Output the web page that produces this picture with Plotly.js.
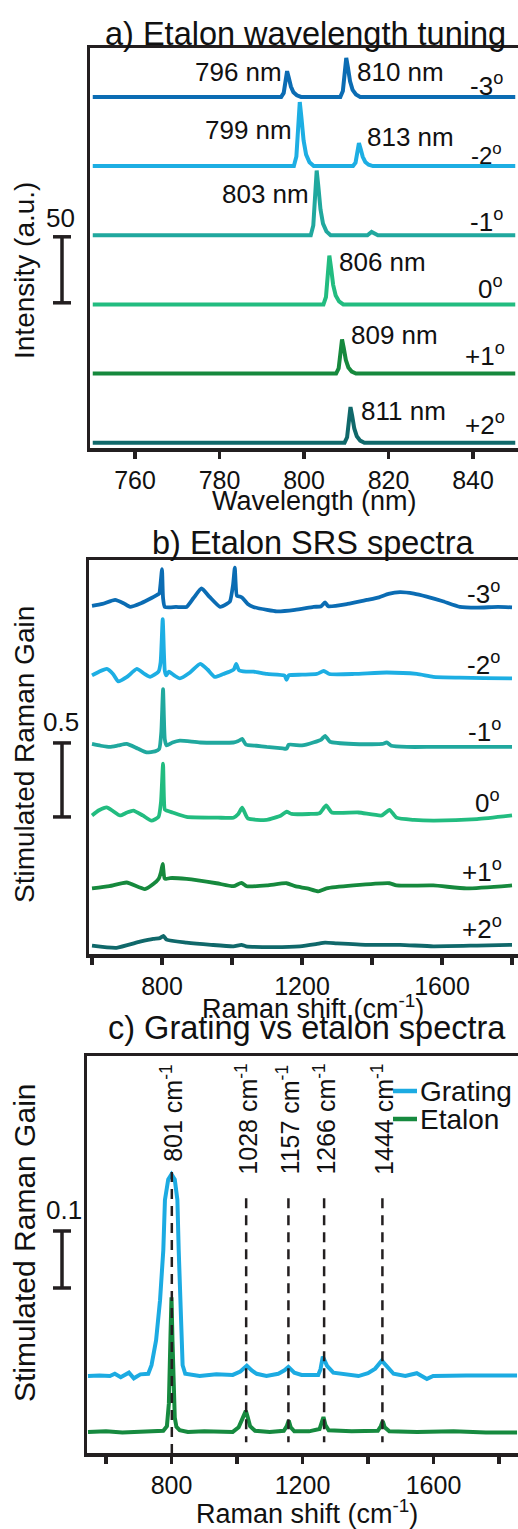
<!DOCTYPE html>
<html>
<head>
<meta charset="utf-8">
<script src="https://cdn.plot.ly/plotly-3.0.1.min.js"></script>
<style>
  html, body { margin: 0; padding: 0; background: #fff; overflow: hidden; }
  #fig { width: 518px; height: 1529px; }
</style>
</head>
<body>
<div id="fig"></div>
<script>
// ---------- a) Etalon wavelength tuning (wavelength in nm, intensity in a.u.) ----------
const tuneAngles = ['-3', '-2', '-1', '0', '+1', '+2'];
const tuneX_m3 = [750, 794.6, 795.2, 795.6, 796, 796.4, 796.9, 797.5, 798.3, 799.3, 808.6, 809.2, 809.6, 810, 810.4, 810.9, 811.5, 812.3, 813.3, 850];
const tuneY_m3 = [0, 0, 3, 10.7, 19.5, 14.6, 7.8, 3.5, 1.2, 0, 0, 4.4, 16.2, 29.5, 22.1, 11.8, 5.3, 1.8, 0, 0];
const tuneX_m2 = [750, 797.6, 798.2, 798.6, 799, 799.4, 799.9, 800.5, 801.3, 802.3, 811.6, 812.2, 812.6, 813, 813.4, 813.9, 814.5, 815.3, 816.3, 850];
const tuneY_m2 = [0, 0, 7.3, 26.7, 48.5, 36.4, 19.4, 8.7, 2.9, 0, 0, 2.6, 9.6, 17.4, 13.1, 7, 3.1, 1, 0, 0];
const tuneX_m1 = [750, 801.6, 802.2, 802.6, 803, 803.4, 803.9, 804.5, 805.3, 806.3, 815, 816, 817.5, 850];
const tuneY_m1 = [0, 0, 7.4, 27, 49, 36.8, 19.6, 8.8, 2.9, 0, 0, 2.5, 0, 0];
const tuneX_0 = [750, 804.6, 805.2, 805.6, 806, 806.4, 806.9, 807.5, 808.3, 809.3, 850];
const tuneY_0 = [0, 0, 5.6, 20.4, 37, 27.8, 14.8, 6.7, 2.2, 0, 0];
const tuneX_p1 = [750, 807.6, 808.2, 808.6, 809, 809.4, 809.9, 810.5, 811.3, 812.3, 850];
const tuneY_p1 = [0, 0, 3.9, 14.2, 25.8, 19.4, 10.3, 4.6, 1.5, 0, 0];
const tuneX_p2 = [750, 809.6, 810.2, 810.6, 811, 811.4, 811.9, 812.5, 813.3, 814.3, 850];
const tuneY_p2 = [0, 0, 4.1, 14.9, 27, 20.3, 10.8, 4.9, 1.6, 0, 0];
// stacking offsets of the waterfall (a.u.), top trace first
const tuneOffsets = [266, 213.6, 161.2, 108.8, 56.4, 4];
const tunePeakLabels = ['796 nm', '810 nm', '799 nm', '813 nm', '803 nm', '806 nm', '809 nm', '811 nm'];
const tuneScale = 50;      // intensity scale bar (a.u.)
const tuneScaleBase = 110; // where the scale bar starts on the stacked axis
const tuneTicks = [760, 780, 800, 820, 840];

// ---------- b) Etalon SRS spectra (Raman shift in cm-1) ----------
const srsX_m3 = [600, 630, 666, 690, 709, 740, 770, 785, 792, 796, 800, 803, 808, 840, 870, 890, 913, 935, 966, 985, 994, 1003, 1008, 1014, 1022, 1030, 1045, 1061, 1100, 1128, 1180, 1233, 1255, 1266, 1275, 1330, 1385, 1420, 1447, 1480, 1520, 1556, 1600, 1651, 1700, 1760, 1800];
const srsY_m3 = [0.007, 0.02, 0.047, 0.025, 0.0, 0.025, 0.06, 0.08, 0.09, 0.16, 0.255, 0.06, 0.0, 0.0, 0.0, 0.06, 0.125, 0.07, 0.0, 0.02, 0.036, 0.15, 0.265, 0.075, 0.07, 0.06, 0.02, 0.0, -0.02, -0.03, -0.02, 0.0, 0.005, 0.03, 0.005, 0.02, 0.047, 0.065, 0.088, 0.1, 0.09, 0.07, 0.04, 0.0, -0.005, 0.0, -0.003];
const srsX_m2 = [600, 620, 642, 660, 675, 700, 728, 750, 766, 790, 796, 802, 808, 812, 820, 835, 851, 880, 909, 930, 951, 975, 994, 1005, 1012, 1020, 1040, 1061, 1100, 1150, 1156, 1162, 1200, 1242, 1262, 1278, 1350, 1442, 1528, 1575, 1650, 1720, 1800];
const srsY_m2 = [0.01, 0.035, 0.054, 0.02, -0.03, 0.0, 0.054, 0.02, 0.0, 0.036, 0.1, 0.39, 0.04, 0.01, 0.036, 0.01, -0.01, 0.03, 0.088, 0.05, 0.0, 0.02, 0.036, 0.05, 0.088, 0.045, 0.036, 0.036, 0.02, 0.01, -0.02, 0.01, 0.015, 0.02, 0.04, 0.02, 0.02, 0.03, 0.02, 0.0, -0.005, -0.008, -0.01];
const srsX_m1 = [600, 625, 651, 675, 699, 730, 756, 780, 792, 798, 803, 808, 813, 830, 851, 909, 1004, 1018, 1029, 1040, 1070, 1099, 1145, 1156, 1162, 1200, 1232, 1255, 1266, 1280, 1347, 1430, 1442, 1455, 1500, 1575, 1700, 1800];
const srsY_m1 = [0.02, 0.008, 0.0, 0.01, 0.02, -0.01, -0.036, -0.03, -0.014, 0.1, 0.39, 0.05, 0.01, 0.03, 0.043, 0.03, 0.03, 0.04, 0.054, 0.015, 0.008, 0.0, -0.01, -0.012, 0.015, 0.01, 0.03, 0.05, 0.075, 0.035, 0.02, 0.02, 0.03, 0.008, 0.0, 0.0, 0.0, 0.0];
const srsX_0 = [600, 620, 642, 660, 680, 700, 718, 745, 770, 790, 797, 803, 808, 813, 830, 870, 960, 1004, 1018, 1029, 1045, 1099, 1140, 1156, 1170, 1220, 1250, 1269, 1285, 1361, 1428, 1450, 1470, 1520, 1575, 1700, 1800];
const srsY_0 = [0.01, 0.045, 0.065, 0.04, 0.01, 0.03, 0.043, 0.01, -0.025, 0.0, 0.1, 0.36, 0.05, 0.043, 0.03, 0.0, -0.005, -0.005, 0.02, 0.062, -0.01, -0.02, 0.01, 0.035, 0.02, 0.02, 0.025, 0.078, 0.03, 0.03, 0.01, 0.048, -0.005, -0.02, -0.025, -0.015, 0.01];
const srsX_p1 = [600, 650, 699, 751, 775, 790, 797, 802, 807, 812, 823, 870, 956, 1004, 1027, 1042, 1100, 1156, 1180, 1215, 1247, 1270, 1347, 1450, 1470, 1575, 1670, 1800];
const srsY_p1 = [-0.01, 0.005, 0.03, -0.014, 0.02, 0.054, 0.1, 0.155, 0.06, 0.054, 0.06, 0.054, 0.025, 0.005, 0.028, 0.005, 0.01, 0.025, 0.005, -0.01, -0.03, -0.01, 0.01, 0.025, 0.01, 0.01, -0.01, 0.01];
const srsX_p2 = [600, 670, 737, 775, 794, 804, 813, 870, 940, 1004, 1027, 1040, 1120, 1194, 1240, 1266, 1300, 1385, 1480, 1575, 1700, 1800];
const srsY_p2 = [0.01, -0.005, 0.036, 0.055, 0.06, 0.075, 0.05, 0.03, 0.015, 0.005, 0.015, 0.005, 0.0, 0.005, 0.02, 0.03, 0.025, 0.015, 0.015, 0.005, 0.01, 0.015];
const srsOffsets = [2.345, 1.872, 1.399, 0.926, 0.453, 0.047];
const srsScale = 0.5;
const srsScaleBase = 0.926;
const ramanLabelTicks = [800, 1200, 1600];
const ramanMinorTicks = [600, 1000, 1400, 1800];

// ---------- c) Grating vs etalon spectra ----------
const gratingX = [545, 580, 612, 627, 645, 670, 685, 705, 729, 739, 753, 765, 775, 780, 790, 800, 810, 818, 822, 826, 829, 834, 842, 850, 886, 937, 987, 1010, 1030, 1045, 1060, 1090, 1126, 1145, 1157, 1175, 1197, 1248, 1255, 1262, 1275, 1294, 1340, 1371, 1400, 1422, 1442, 1460, 1478, 1514, 1549, 1580, 1599, 1700, 1800, 1855];
const gratingY = [0.0, 0.001, 0.0, 0.004, -0.002, 0.006, -0.004, 0.003, 0.004, 0.019, 0.063, 0.133, 0.221, 0.309, 0.345, 0.354, 0.345, 0.309, 0.221, 0.133, 0.063, 0.019, 0.004, 0.003, 0.0, 0.003, 0.002, 0.008, 0.018, 0.01, 0.004, 0.0, 0.004, 0.01, 0.016, 0.006, 0.002, 0.002, 0.012, 0.034, 0.018, 0.006, 0.002, 0.0, 0.005, 0.013, 0.027, 0.016, 0.004, 0.0, 0.005, -0.005, 0.0, 0.001, 0.0, 0.001];
const etalonX = [545, 600, 650, 700, 740, 775, 786, 792, 797, 800, 803, 806, 810, 815, 825, 850, 900, 987, 1005, 1018, 1027, 1033, 1040, 1055, 1100, 1143, 1152, 1158, 1164, 1175, 1220, 1252, 1259, 1264, 1270, 1280, 1350, 1430, 1439, 1445, 1451, 1465, 1550, 1661, 1760, 1855];
const etalonY = [0.0, 0.001, -0.001, 0.0, 0.001, 0.002, 0.01, 0.05, 0.17, 0.236, 0.16, 0.06, 0.025, 0.009, 0.003, 0.0, 0.001, 0.0, 0.008, 0.025, 0.037, 0.025, 0.01, 0.002, 0.0, 0.002, 0.01, 0.02, 0.008, 0.001, 0.001, 0.005, 0.02, 0.026, 0.012, 0.003, 0.001, 0.002, 0.01, 0.019, 0.008, 0.001, 0.0, 0.001, -0.001, -0.001];
const compareOffsets = [0.135, 0.037];      // grating, etalon
const bandPositions = [801, 1028, 1157, 1266, 1444];
const bandTop = [0.493, 0.447, 0.447, 0.447, 0.447];
const bandBottom = [0.0, 0.019, 0.019, 0.019, 0.019];
const compareScale = 0.1;
const compareScaleBase = 0.2895;

// ---------- styling ----------
const W = 518, H = 1529;
const FONT = 'Liberation Sans, Arial, Helvetica, sans-serif';
const INK = '#231f20';
const TXT = '#111111';
const spectrumColors = ['#0b6cb3', '#1daee3', '#20a89e', '#22bc80', '#16893d', '#10686a'];
const gratingColor = '#1cabe2';
const etalonColor = '#168a3f';

const px = v => v / W;
const py = v => 1 - v / H;

const traces = [];
const tuneXs = [tuneX_m3, tuneX_m2, tuneX_m1, tuneX_0, tuneX_p1, tuneX_p2];
const tuneYs = [tuneY_m3, tuneY_m2, tuneY_m1, tuneY_0, tuneY_p1, tuneY_p2];
tuneXs.forEach((xs, i) => {
  traces.push({
    x: xs, y: tuneYs[i].map(v => v + tuneOffsets[i]),
    xaxis: 'x', yaxis: 'y', mode: 'lines', name: tuneAngles[i] + '°', showlegend: false,
    line: { color: spectrumColors[i], width: 4 }
  });
});
const srsXs = [srsX_m3, srsX_m2, srsX_m1, srsX_0, srsX_p1, srsX_p2];
const srsYs = [srsY_m3, srsY_m2, srsY_m1, srsY_0, srsY_p1, srsY_p2];
srsXs.forEach((xs, i) => {
  traces.push({
    x: xs, y: srsYs[i].map(v => v + srsOffsets[i]),
    xaxis: 'x2', yaxis: 'y2', mode: 'lines', name: tuneAngles[i] + '°', showlegend: false,
    line: { color: spectrumColors[i], width: 3.8, shape: 'spline', smoothing: 0.5 }
  });
});
traces.push({
  x: gratingX, y: gratingY.map(v => v + compareOffsets[0]),
  xaxis: 'x3', yaxis: 'y3', mode: 'lines', name: 'Grating', showlegend: false,
  line: { color: gratingColor, width: 4 }
});
traces.push({
  x: etalonX, y: etalonY.map(v => v + compareOffsets[1]),
  xaxis: 'x3', yaxis: 'y3', mode: 'lines', name: 'Etalon', showlegend: false,
  line: { color: etalonColor, width: 4 }
});

const tickFont = { family: FONT, size: 25, color: TXT };
const xBase = {
  showgrid: false, zeroline: false, showline: true, linecolor: INK, linewidth: 3.5,
  mirror: true, ticks: 'outside', ticklen: 7, tickwidth: 3.5, tickcolor: INK,
  tickfont: tickFont, fixedrange: true, tickmode: 'array'
};
const yBase = {
  showgrid: false, zeroline: false, showline: true, linecolor: INK, linewidth: 3.5,
  mirror: false, ticks: '', showticklabels: false, fixedrange: true
};
const ramanMinor = { tickmode: 'array', tickvals: ramanMinorTicks, ticks: 'outside', ticklen: 7, tickwidth: 3.5, tickcolor: INK, showgrid: false };

function note(text, x, y, size, xanchor, yanchor, angle) {
  return {
    text: text, x: px(x), y: py(y), xref: 'paper', yref: 'paper', showarrow: false,
    xanchor: xanchor || 'center', yanchor: yanchor || 'middle', textangle: angle || 0,
    font: { family: FONT, size: size, color: TXT }, borderpad: 0
  };
}
const deg = a => a + '<sup>o</sup>';

const annotations = [
  // panel titles
  note('a) Etalon wavelength tuning', 305, 34, 32.5),
  note('b) Etalon SRS spectra', 313, 543, 32.5),
  note('c) Grating vs etalon spectra', 307, 1028, 32.5),
  // axis titles
  note('Wavelength (nm)', 314, 501, 27),
  note('Raman shift (cm<sup>-1</sup>)', 313, 1007, 27),
  note('Raman shift (cm<sup>-1</sup>)', 307, 1512, 27),
  note('Intensity (a.u.)', 24, 271, 28, 'center', 'middle', -90),
  note('Stimulated Raman Gain', 24, 755, 28, 'center', 'middle', -90),
  note('Stimulated Raman Gain', 24, 1243, 30, 'center', 'middle', -90),
  // scale bar labels
  note(String(tuneScale), 60, 218, 26),
  note(String(srsScale), 61, 722, 26),
  note(String(compareScale), 64, 1210, 26),
  // peak wavelengths in panel a
  note(tunePeakLabels[0], 283, 72, 26, 'right'),
  note(tunePeakLabels[1], 356, 72, 26, 'left'),
  note(tunePeakLabels[2], 293, 130, 26, 'right'),
  note(tunePeakLabels[3], 366, 137, 26, 'left'),
  note(tunePeakLabels[4], 310, 194, 26, 'right'),
  note(tunePeakLabels[5], 338, 262, 26, 'left'),
  note(tunePeakLabels[6], 350, 335, 26, 'left'),
  note(tunePeakLabels[7], 360, 411, 26, 'left'),
  // etalon angles, panel a
  note(deg(tuneAngles[0]), 504, 84, 26, 'right'),
  note(deg(tuneAngles[1]), 503, 154, 24, 'right'),
  note(deg(tuneAngles[2]), 504, 220, 26, 'right'),
  note(deg(tuneAngles[3]), 504, 287, 26, 'right'),
  note(deg(tuneAngles[4]), 506, 355, 26, 'right'),
  note(deg(tuneAngles[5]), 506, 423, 26, 'right'),
  // etalon angles, panel b
  note(deg(tuneAngles[0]), 501, 593, 26, 'right'),
  note(deg(tuneAngles[1]), 501, 664, 26, 'right'),
  note(deg(tuneAngles[2]), 502, 730, 26, 'right'),
  note(deg(tuneAngles[3]), 501, 801, 26, 'right'),
  note(deg(tuneAngles[4]), 503, 870, 26, 'right'),
  note(deg(tuneAngles[5]), 503, 927, 26, 'right'),
  // legend entries, panel c
  note('Grating', 419, 1091, 28, 'left'),
  note('Etalon', 419, 1119, 28, 'left')
];
// Raman band labels, rotated, hanging from the top of panel c
bandPositions.forEach(b => {
  annotations.push({
    text: b + ' cm<sup>-1</sup>', x: b, y: py(1063), xref: 'x3', yref: 'paper',
    showarrow: false, textangle: -90, xanchor: 'center', yanchor: 'top', borderpad: 0,
    font: { family: FONT, size: 25, color: TXT }
  });
});

const shapes = [];
function scaleBar(yref, y0, len) {
  const common = { type: 'line', xref: 'paper', yref: yref, line: { color: INK, width: 3.5 } };
  shapes.push(Object.assign({ x0: px(62), x1: px(62), y0: y0, y1: y0 + len }, common));
  shapes.push(Object.assign({ x0: px(53), x1: px(71), y0: y0, y1: y0 }, common));
  shapes.push(Object.assign({ x0: px(53), x1: px(71), y0: y0 + len, y1: y0 + len }, common));
}
scaleBar('y', tuneScaleBase, tuneScale);
scaleBar('y2', srsScaleBase, srsScale);
scaleBar('y3', compareScaleBase, compareScale);
bandPositions.forEach((b, i) => {
  shapes.push({
    type: 'line', xref: 'x3', yref: 'y3', x0: b, x1: b, y0: bandTop[i], y1: bandBottom[i],
    line: { color: INK, width: 2.5, dash: '10px,7px' }
  });
});
// legend line samples
shapes.push({ type: 'line', xref: 'paper', yref: 'paper', x0: px(393), x1: px(417), y0: py(1091), y1: py(1091), line: { color: gratingColor, width: 4.5 } });
shapes.push({ type: 'line', xref: 'paper', yref: 'paper', x0: px(393), x1: px(417), y0: py(1119), y1: py(1119), line: { color: etalonColor, width: 4.5 } });

const layout = {
  width: W, height: H,
  margin: { l: 0, r: 0, t: 0, b: 0, pad: 0 },
  paper_bgcolor: '#ffffff', plot_bgcolor: '#ffffff',
  showlegend: false,
  font: { family: FONT, color: TXT },
  xaxis: Object.assign({}, xBase, { domain: [px(90), 1], range: [749.35, 850.65], tickvals: tuneTicks, anchor: 'y' }),
  yaxis: Object.assign({}, yBase, { domain: [py(448), py(48)], range: [0, 303.03], anchor: 'x' }),
  xaxis2: Object.assign({}, xBase, { domain: [px(89), 1], range: [591.4, 1817.1], tickvals: ramanLabelTicks, minor: ramanMinor, anchor: 'y2' }),
  yaxis2: Object.assign({}, yBase, { domain: [py(954), py(560)], range: [0, 2.662], anchor: 'x2' }),
  xaxis3: Object.assign({}, xBase, { domain: [px(87), 1], range: [542, 1858], tickvals: ramanLabelTicks, minor: ramanMinor, anchor: 'y3' }),
  yaxis3: Object.assign({}, yBase, { domain: [py(1453), py(1056)], range: [0, 0.6965], anchor: 'x3' }),
  annotations: annotations,
  shapes: shapes
};

Plotly.newPlot('fig', traces, layout, { staticPlot: true, displayModeBar: false });
</script>
</body>
</html>
